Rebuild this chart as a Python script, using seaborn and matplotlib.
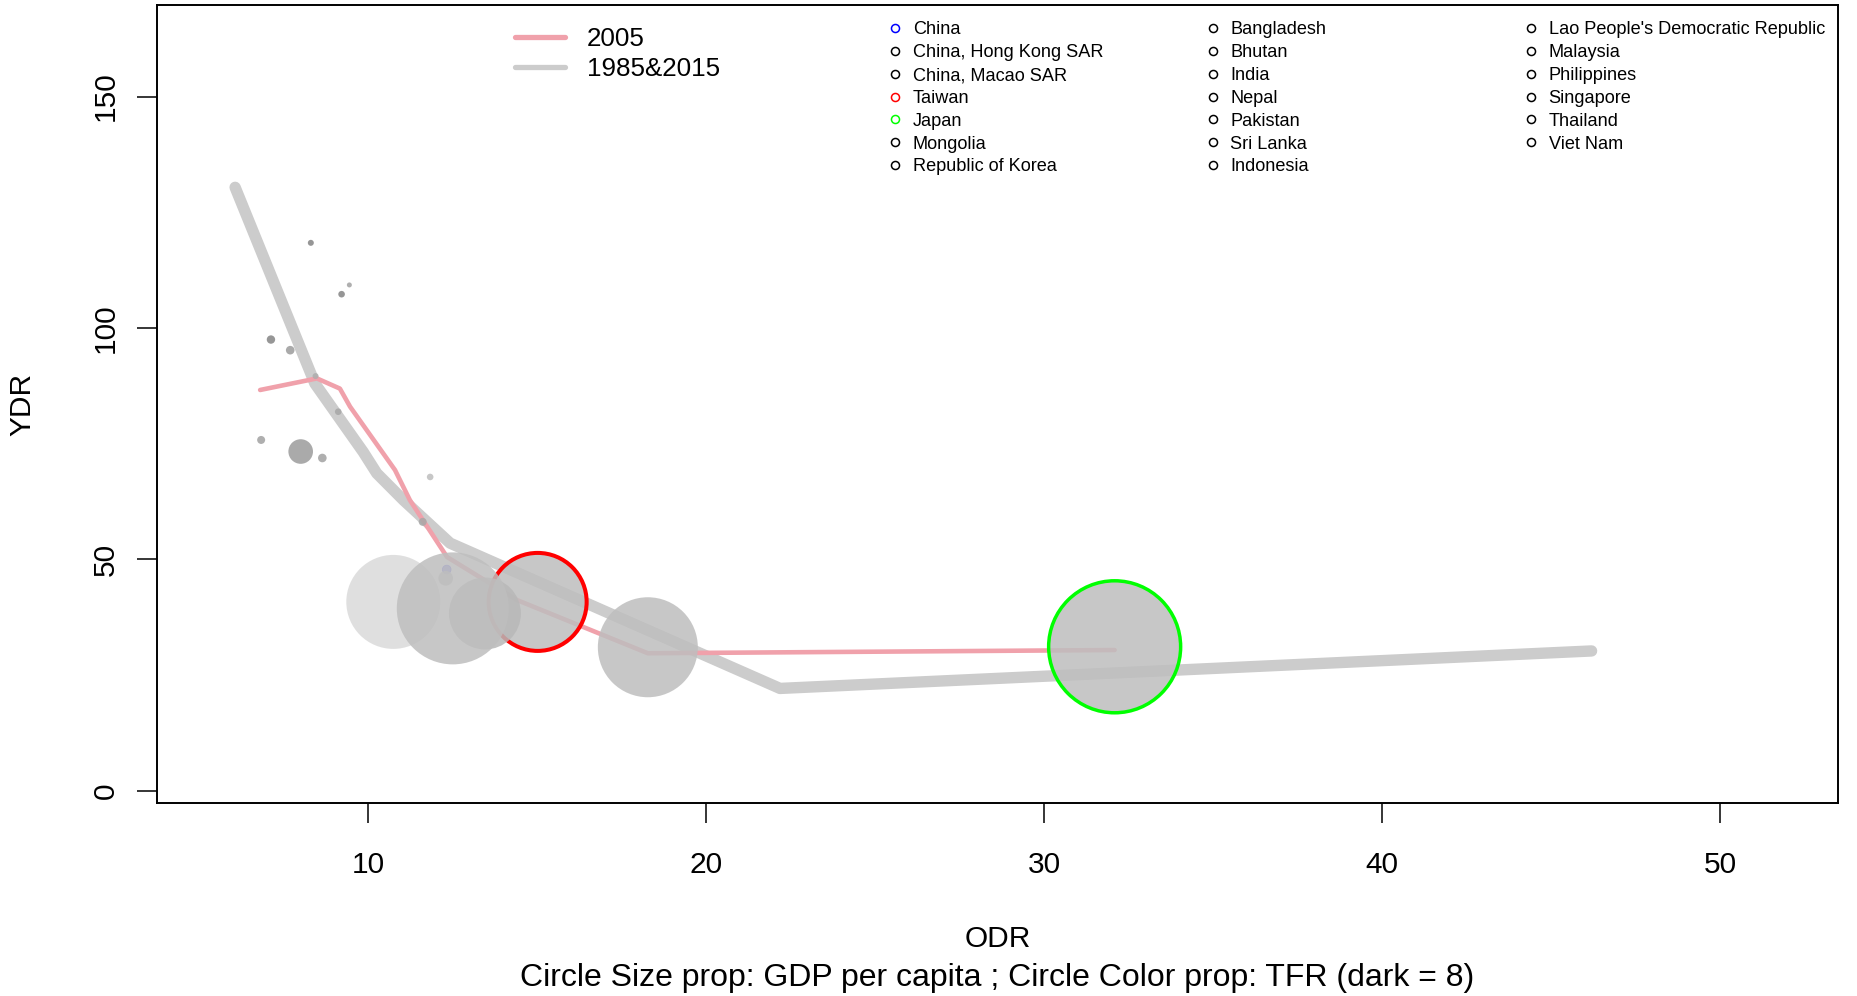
import matplotlib
matplotlib.use("Agg")
import matplotlib.pyplot as plt
from matplotlib.lines import Line2D
from matplotlib.legend import Legend
import seaborn as sns
import pandas as pd

sns.set_style("ticks")
plt.rcParams["font.family"] = ["Liberation Sans", "DejaVu Sans"]
for k in ["text.color", "axes.labelcolor", "xtick.color", "ytick.color", "axes.edgecolor"]:
    plt.rcParams[k] = "black"

# ---------------- data ----------------
countries = ["China", "China, Hong Kong SAR", "China, Macao SAR", "Taiwan", "Japan",
             "Mongolia", "Republic of Korea", "Bangladesh", "Bhutan", "India", "Nepal",
             "Pakistan", "Sri Lanka", "Indonesia", "Lao People's Democratic Republic",
             "Malaysia", "Philippines", "Singapore", "Thailand", "Viet Nam"]
odr = [12.32, 18.27, 10.74, 15.01, 32.08,
       6.83, 13.45, 7.69, 9.21, 9.11, 9.44,
       7.12, 11.61, 8.64, 8.30,
       8.00, 8.44, 12.50, 12.29, 11.83]
ydr = [47.8, 31.0, 40.8, 40.8, 31.1,
       75.8, 38.3, 95.2, 107.3, 81.9, 109.3,
       97.5, 58.1, 71.9, 118.4,
       73.3, 89.6, 39.4, 45.9, 67.8]
# relative circle size (GDP per capita), radius
gdp_size = [4.3, 50, 47, 49, 66,
            4.0, 36, 4.3, 3.3, 3.3, 2.5,
            4.2, 4.0, 4.3, 3.0,
            12.3, 3.0, 56, 7.3, 3.3]
# circle fill shade (TFR, darker = higher)
tfr_shade = ["#7b7be0", "#bebebe", "#dadada", "#bebebe", "#bebebe",
             "#a1a1a1", "#b8b8b8", "#9b9b9b", "#848484", "#a7a7a7", "#a1a1a1",
             "#848484", "#a7a7a7", "#a1a1a1", "#848484",
             "#9b9b9b", "#adadad", "#bebebe", "#bebebe", "#bebebe"]
legend_colors = ["#0000ff", "black", "black", "#ff0000", "#00ff00",
                 "black", "black", "black", "black", "black", "black",
                 "black", "black", "black", "black",
                 "black", "black", "black", "black", "black"]

line2005_odr = [6.80, 8.48, 9.16, 9.46, 10.79, 11.23, 12.33, 14.40, 18.27, 32.08]
line2005_ydr = [86.6, 89.1, 86.9, 83.0, 69.3, 62.8, 50.5, 41.2, 29.7, 30.4]
line8515_odr = [6.06, 8.42, 9.85, 10.25, 11.04, 12.42, 22.18, 46.19]
line8515_ydr = [130.4, 88.0, 73.2, 68.6, 62.8, 53.5, 22.1, 30.2]

x_ticks = [10, 20, 30, 40, 50]
y_ticks = [0, 50, 100, 150]

# ---------------- styling ----------------
W, H = 1857, 996
PINK = "#f0a1ab"
GRAY = "#cccccc"
FS_TICK = 21.5
FS_LEG = 18.7
FS_CTRY = 13.1

fig = plt.figure(figsize=(W / 100, H / 100), dpi=100)
ax = fig.add_axes([157 / W, 1 - 803 / H, (1838 - 157) / W, (803 - 5) / H])

df_l1 = pd.DataFrame({"ODR": line8515_odr, "YDR": line8515_ydr})
df_l2 = pd.DataFrame({"ODR": line2005_odr, "YDR": line2005_ydr})
sns.lineplot(data=df_l1, x="ODR", y="YDR", sort=False, estimator=None, ax=ax,
             color=GRAY, lw=8.2, solid_capstyle="round", solid_joinstyle="round", zorder=1)
sns.lineplot(data=df_l2, x="ODR", y="YDR", sort=False, estimator=None, ax=ax,
             color=PINK, lw=3.3, solid_capstyle="round", solid_joinstyle="round", zorder=2)

df = pd.DataFrame({"country": countries, "ODR": odr, "YDR": ydr})
pal = {c: matplotlib.colors.to_rgba(col, 0.85) for c, col in zip(countries, tfr_shade)}
sizes = {c: (2 * r * 0.72) ** 2 for c, r in zip(countries, gdp_size)}
edgecols = []
lws = []
for c, lc in zip(countries, legend_colors):
    if c in ("Taiwan", "Japan"):
        edgecols.append(lc)
        lws.append(2.9 if c == "Taiwan" else 2.5)
    elif c == "China":
        edgecols.append((0.35, 0.35, 0.95, 0.9))
        lws.append(0.6)
    else:
        edgecols.append((0, 0, 0, 0))
        lws.append(0)
sns.scatterplot(data=df, x="ODR", y="YDR", hue="country", palette=pal,
                size="country", sizes=sizes, legend=False, ax=ax,
                edgecolor=edgecols, linewidth=lws, zorder=3)

ax.set_xlim(3.749, 53.48)
ax.set_ylim(-2.66, 169.8)
ax.set_xticks(x_ticks)
ax.set_yticks(y_ticks)
ax.set_xticklabels([str(v) for v in x_ticks])
ax.set_yticklabels([str(v) for v in y_ticks], rotation=90, va="center")
ax.tick_params(axis="x", length=14.4, width=1.1, pad=19.8, labelsize=FS_TICK, color="black",
               labelcolor="black")
ax.tick_params(axis="y", length=14.4, width=1.1, pad=12.6, labelsize=FS_TICK, color="black",
               labelcolor="black")
for s in ax.spines.values():
    s.set_visible(True)
    s.set_linewidth(1.4)
    s.set_color("black")
ax.set_xlabel("")
ax.set_ylabel("")

fig.text(22 / W, 1 - 404 / H, "YDR", rotation=90, ha="center", va="center",
         fontsize=FS_TICK, color="black")
fig.text(997.5 / W, 1 - 939 / H, "ODR", ha="center", va="center",
         fontsize=FS_TICK, color="black")
fig.text(997.5 / W, 1 - 978 / H,
         "Circle Size prop: GDP per capita ; Circle Color prop: TFR (dark = 8)",
         ha="center", va="center", fontsize=23.0, color="black")

# line legend
lh = [Line2D([], [], color=PINK, lw=3.8, solid_capstyle="round"),
      Line2D([], [], color=GRAY, lw=3.8, solid_capstyle="round")]
leg1 = Legend(ax, lh, ["2005", "1985&2015"], loc="upper left",
              bbox_to_anchor=(515 / W, 1 - 27 / H), bbox_transform=fig.transFigure,
              frameon=False, fontsize=FS_LEG, handlelength=1.92, handletextpad=0.85,
              labelspacing=0.24, borderpad=0, borderaxespad=0, labelcolor="black")
ax.add_artist(leg1)

# country legend, three columns
col_x = [895.3, 1212.7, 1531.0]
groups = [range(0, 7), range(7, 14), range(14, 20)]
fs_px = FS_CTRY / 0.72
for cx, g in zip(col_x, groups):
    hs = [Line2D([], [], ls="none", marker="o", markersize=5.8, markerfacecolor="none",
                 markeredgecolor=legend_colors[i], markeredgewidth=1.1) for i in g]
    lg = Legend(ax, hs, [countries[i] for i in g], loc="upper left",
                bbox_to_anchor=((cx - 0.4 * fs_px) / W, 1 - 21.5 / H),
                bbox_transform=fig.transFigure, frameon=False, fontsize=FS_CTRY,
                handlelength=0.8, handletextpad=0.57, labelspacing=0.32,
                borderpad=0, borderaxespad=0, labelcolor="black")
    ax.add_artist(lg)

fig.savefig("out.png", dpi=100)
